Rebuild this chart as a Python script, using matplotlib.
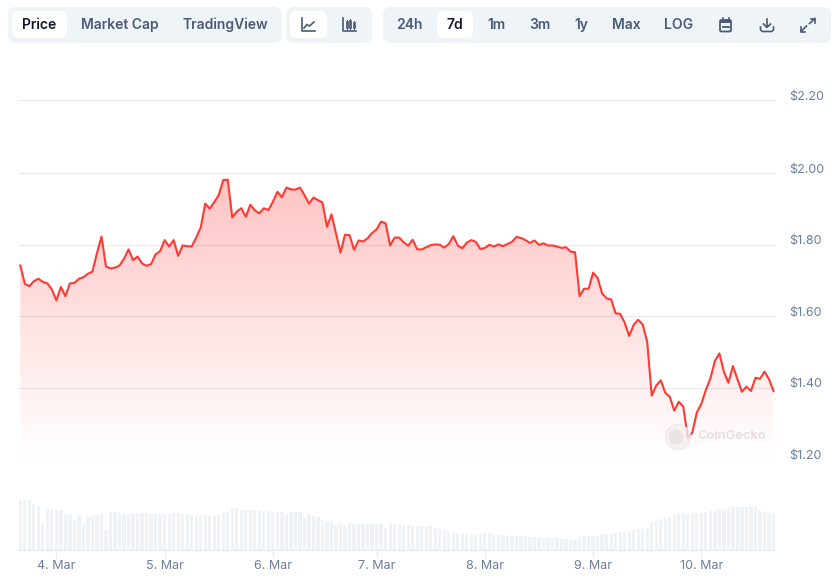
import numpy as np
import matplotlib
matplotlib.use("Agg")
import matplotlib.pyplot as plt
from matplotlib.patches import FancyBboxPatch, Circle, Rectangle
from matplotlib.transforms import ScaledTranslation

plt.rcParams['font.family'] = ['Inter', 'DejaVu Sans']

prices = [
 1.742,1.691,1.684,1.698,1.705,1.696,1.692,1.675,1.644,1.682,
 1.656,1.692,1.693,1.705,1.709,1.719,1.725,1.777,1.823,1.739,
 1.734,1.736,1.742,1.761,1.787,1.757,1.767,1.748,1.741,1.746,
 1.773,1.782,1.813,1.795,1.813,1.769,1.798,1.796,1.795,1.820,
 1.848,1.915,1.901,1.919,1.939,1.981,1.982,1.876,1.893,1.902,
 1.878,1.912,1.896,1.888,1.902,1.897,1.920,1.948,1.933,1.960,
 1.955,1.954,1.960,1.939,1.915,1.932,1.925,1.918,1.850,1.885,
 1.832,1.778,1.828,1.827,1.786,1.812,1.809,1.818,1.833,1.843,
 1.865,1.860,1.798,1.820,1.820,1.807,1.797,1.814,1.787,1.787,
 1.793,1.799,1.801,1.800,1.792,1.802,1.824,1.798,1.790,1.806,
 1.813,1.808,1.788,1.791,1.800,1.795,1.801,1.796,1.802,1.808,
 1.822,1.819,1.813,1.805,1.812,1.800,1.804,1.798,1.798,1.795,
 1.791,1.793,1.781,1.779,1.656,1.677,1.677,1.722,1.707,1.664,
 1.650,1.647,1.608,1.607,1.582,1.545,1.576,1.590,1.577,1.528,
 1.378,1.406,1.421,1.386,1.375,1.336,1.361,1.347,1.260,1.275,
 1.331,1.355,1.394,1.426,1.475,1.496,1.445,1.414,1.461,1.424,
 1.389,1.403,1.391,1.428,1.425,1.445,1.424,1.391]

volumes = [
 149,152,149,137,131,80,125,119,119,119,
 107,104,89,101,74,98,101,104,110,56,
 113,113,110,107,107,107,107,110,110,107,
 107,107,107,107,110,110,107,107,104,104,
 104,104,101,101,104,110,116,125,125,119,
 119,119,119,119,116,116,113,113,113,110,
 113,113,113,98,107,101,98,89,86,83,
 74,77,71,80,77,77,77,77,77,77,
 77,65,77,77,77,74,74,71,71,71,
 68,71,65,62,59,53,50,50,50,47,
 47,47,47,50,50,47,44,44,41,41,
 41,41,41,38,38,35,35,35,35,35,
 32,32,29,29,38,41,41,41,41,44,
 47,47,50,53,53,56,59,62,62,65,
 80,86,92,95,98,104,110,110,107,107,
 110,110,113,116,116,122,122,125,128,128,
 128,128,128,131,116,113,110,107]

date_ticks = [8, 32, 56, 79, 103, 127, 151]
date_labels = ["4. Mar", "5. Mar", "6. Mar", "7. Mar", "8. Mar", "9. Mar", "10. Mar"]
price_ticks = [1.20, 1.40, 1.60, 1.80, 2.00, 2.204]
price_labels = ["$1.20", "$1.40", "$1.60", "$1.80", "$2.00", "$2.20"]
left_buttons = [("Price", 39, True), ("Market Cap", 119.5, False), ("TradingView", 225, False)]
range_buttons = [("24h", 409.5, False), ("7d", 455, True), ("1m", 496, False), ("3m", 539.5, False),
                 ("1y", 581, False), ("Max", 626, False), ("LOG", 678.5, False)]

W, H = 835, 583
fig = plt.figure(figsize=(W/100, H/100), dpi=100, facecolor='white')
def px_axes(x0, y0, x1, y1, **kw):
    return fig.add_axes([x0/W, 1-y1/H, (x1-x0)/W, (y1-y0)/H], **kw)

XL = (-0.51, 167.33)
x = np.arange(len(prices))

# ---- price panel
ax = px_axes(18, 100.3, 775, 459.3)
ax.set_xlim(*XL)
ax.set_ylim(1.2, 2.204)
ax.set_facecolor('none')
ax.set_yticks(price_ticks)
ax.set_yticklabels(price_labels)
ax.grid(axis='y', color='#e9ecf0', lw=0.9)
ax.set_axisbelow(True)
ax.yaxis.tick_right()
ax.tick_params(axis='y', length=0, pad=10.2, labelsize=9, labelcolor='#6b7d9c')
ax.tick_params(axis='x', length=0, labelbottom=False)
off = ScaledTranslation(0, 5/72*0.72, fig.dpi_scale_trans)
for lb in ax.get_yticklabels():
    lb.set_transform(lb.get_transform() + off)
for s in ax.spines.values():
    s.set_visible(False)

poly = ax.fill_between(x, prices, 1.2, color='none', lw=0)
grad = np.zeros((256, 1, 4))
grad[..., 0] = 1.0
grad[..., 1] = 0.13
grad[..., 2] = 0.13
grad[:, 0, 3] = np.linspace(0.275, 0.0, 256)
im = ax.imshow(grad, extent=[XL[0], XL[1], 1.2, 2.0], aspect='auto', origin='upper', zorder=2, interpolation='bilinear')
im.set_clip_path(poly.get_paths()[0], ax.transData)
ax.set_xlim(*XL); ax.set_ylim(1.2, 2.204)
ax.plot(x, prices, color='#ff3a33', lw=1.5, zorder=3, solid_joinstyle='round')

# ---- volume panel
vax = px_axes(18, 495, 775, 550)
vax.bar(x, volumes, width=0.72, color='#f0f3f6', lw=0)
vax.set_xlim(*XL)
vax.set_ylim(0, 165)
vax.set_facecolor('none')
vax.set_yticks([])
vax.set_xticks(date_ticks)
vax.set_xticklabels(date_labels)
vax.tick_params(axis='x', length=6, width=0.9, color='#e9ecf0', labelsize=9, labelcolor='#6b7d9c', pad=1.5)
for k, s in vax.spines.items():
    s.set_visible(k == 'bottom')
vax.spines['bottom'].set_color('#e9ecf0')
vax.spines['bottom'].set_linewidth(0.9)

# ---- toolbar and watermark overlay
ui = fig.add_axes([0, 0, 1, 1], zorder=5)
ui.set_xlim(0, W); ui.set_ylim(H, 0); ui.axis('off'); ui.patch.set_alpha(0)

def rbox(x0, y0, x1, y1, fc, r=7, **kw):
    ui.add_patch(FancyBboxPatch((x0, y0), x1-x0, y1-y0, boxstyle=f"round,pad=0,rounding_size={r}",
                                fc=fc, ec='none', mutation_aspect=1, **kw))
PILL = '#eff4f9'
rbox(8, 7, 282, 43, PILL, 8)
rbox(286, 7, 372, 43, PILL, 8)
rbox(383, 7, 831, 43, PILL, 8)
for a, b in [(12, 67), (290, 327), (437, 473)]:
    rbox(a, 11, b, 39, '#f3e6e6', 6)
    rbox(a, 11, b, 38.3, 'white', 6)

for label, cx, act in left_buttons + range_buttons:
    ui.text(cx, 25, label, ha='center', va='center', fontsize=10, fontweight='semibold',
            color='#111827' if act else '#4b5a75')

IC = '#4b5a75'
# line-chart icon
ui.plot([302, 302, 315], [18, 31, 31], color=IC, lw=1.2)
ui.plot([304, 307, 309.5, 314], [28, 24.5, 26, 22], color=IC, lw=1.2)
# candle icon
ui.plot([343, 343, 356], [18, 31, 31], color=IC, lw=1.2)
for cx_, a, b in [(346.5, 22, 27), (349.5, 20.5, 27), (353.5, 22.5, 27)]:
    ui.plot([cx_, cx_], [a, b], color=IC, lw=1.9)
    ui.plot([cx_, cx_], [a-2, b+2], color=IC, lw=0.7)
# calendar icon
ui.add_patch(FancyBboxPatch((720, 20), 11, 11.5, boxstyle="round,pad=0,rounding_size=1.5", fc='none', ec=IC, lw=1.3))
ui.add_patch(Rectangle((720, 20), 11, 3, fc=IC, ec='none'))
ui.plot([722.5, 728.5], [26.5, 26.5], color=IC, lw=1.3)
ui.plot([722.5, 722.5], [18, 20], color=IC, lw=1.2)
ui.plot([728.5, 728.5], [18, 20], color=IC, lw=1.2)
# download icon
ui.plot([767, 767], [18.5, 27], color=IC, lw=1.2)
ui.plot([763.5, 767, 770.5], [24, 27.5, 24], color=IC, lw=1.2)
ui.plot([760.5, 760.5, 762.5, 771.5, 773.5, 773.5], [27, 30, 31.5, 31.5, 30, 27], color=IC, lw=1.2)
# expand icon
ui.plot([801, 806.5], [31.5, 26], color=IC, lw=1.2)
ui.plot([801, 801, 805], [27, 31.5, 31.5], color=IC, lw=1.2)
ui.plot([809.5, 815], [23.5, 18.5], color=IC, lw=1.2)
ui.plot([811, 815, 815], [18.5, 18.5, 23], color=IC, lw=1.2)

# watermark
ui.add_patch(Circle((678, 437), 12.5, fc='#f6eeef', ec='#ece3e5', lw=0.8, alpha=0.8))
ui.add_patch(Circle((676, 437), 7.5, fc='#e9e2e4', ec='none', alpha=0.8))
ui.text(697, 436, "CoinGecko", ha='left', va='center', fontsize=9.2, fontweight='bold', color='#ebdfe0')

fig.savefig('out.png', dpi=100, facecolor='white')
